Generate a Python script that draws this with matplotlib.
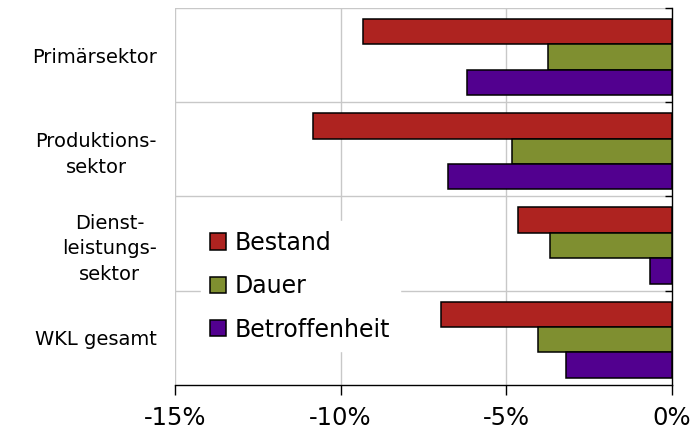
import numpy as np
import matplotlib
matplotlib.use("Agg")
import matplotlib.pyplot as plt
from matplotlib.patches import Patch

categories = ["Primärsektor", "Produktions-\nsektor", "Dienst-\nleistungs-\nsektor", "WKL gesamt"]
series = ["Bestand", "Dauer", "Betroffenheit"]
bestand = [-9.32, -10.85, -4.65, -6.98]
dauer = [-3.75, -4.83, -3.69, -4.05]
betroffenheit = [-6.18, -6.77, -0.66, -3.2]
xticks = [-15, -10, -5, 0]
xticklabels = ["-15%", "-10%", "-5%", "0%"]

colors = ["#ae2320", "#7f8f30", "#52008f"]
values = [bestand, dauer, betroffenheit]

fig = plt.figure(figsize=(6.93, 4.36), dpi=100)
ax = fig.add_axes([175 / 693, 1 - 385 / 436, 497 / 693, 377 / 436])

y = np.arange(len(categories))
h = 0.27
offsets = [-h, 0, h]
for vals, off, c, name in zip(values, offsets, colors, series):
    ax.barh(y + off + 0.02, vals, height=h, color=c, edgecolor="black",
            linewidth=1.1, zorder=3, label=name)

ax.set_xlim(-15, 0)
ax.set_ylim(len(categories) - 0.5, -0.5)

# gridlines
for b in np.arange(-0.5, len(categories) - 0.5, 1.0):
    ax.axhline(b, color="#c8c8c8", lw=1, zorder=1)
for xv in [-15, -10, -5]:
    ax.axvline(xv, color="#c8c8c8", lw=1, zorder=1)

ax.set_xticks(xticks)
ax.set_xticklabels(xticklabels, fontsize=17.5)
ax.tick_params(axis="x", direction="out", length=7, width=1, pad=8)

ax.set_yticks(y)
ax.set_yticklabels(categories, fontsize=14, ha="right", multialignment="center",
                   linespacing=1.45)
ax.tick_params(axis="y", length=0, pad=13)
ax.set_yticks(np.arange(-0.5, len(categories) - 0.5, 1.0), minor=True)
ax.tick_params(axis="y", which="minor", left=False, right=True,
               direction="in", length=5, width=1)

for s in ["top", "left"]:
    ax.spines[s].set_visible(False)
ax.spines["right"].set_color("black")
ax.spines["right"].set_linewidth(1)
ax.spines["bottom"].set_linewidth(1)

handles = [Patch(facecolor=c, edgecolor="black", linewidth=1.1) for c in colors]
leg = ax.legend(handles, series, loc="center left", bbox_to_anchor=(0.052, 0.262),
                fontsize=17, frameon=True, fancybox=False, borderaxespad=0,
                handlelength=0.68, handleheight=0.68, handletextpad=0.35,
                labelspacing=0.82)
leg.get_frame().set_edgecolor("white")
leg.get_frame().set_facecolor("white")
leg.get_frame().set_alpha(1)
leg.set_zorder(5)

fig.savefig("out.png", dpi=100)
